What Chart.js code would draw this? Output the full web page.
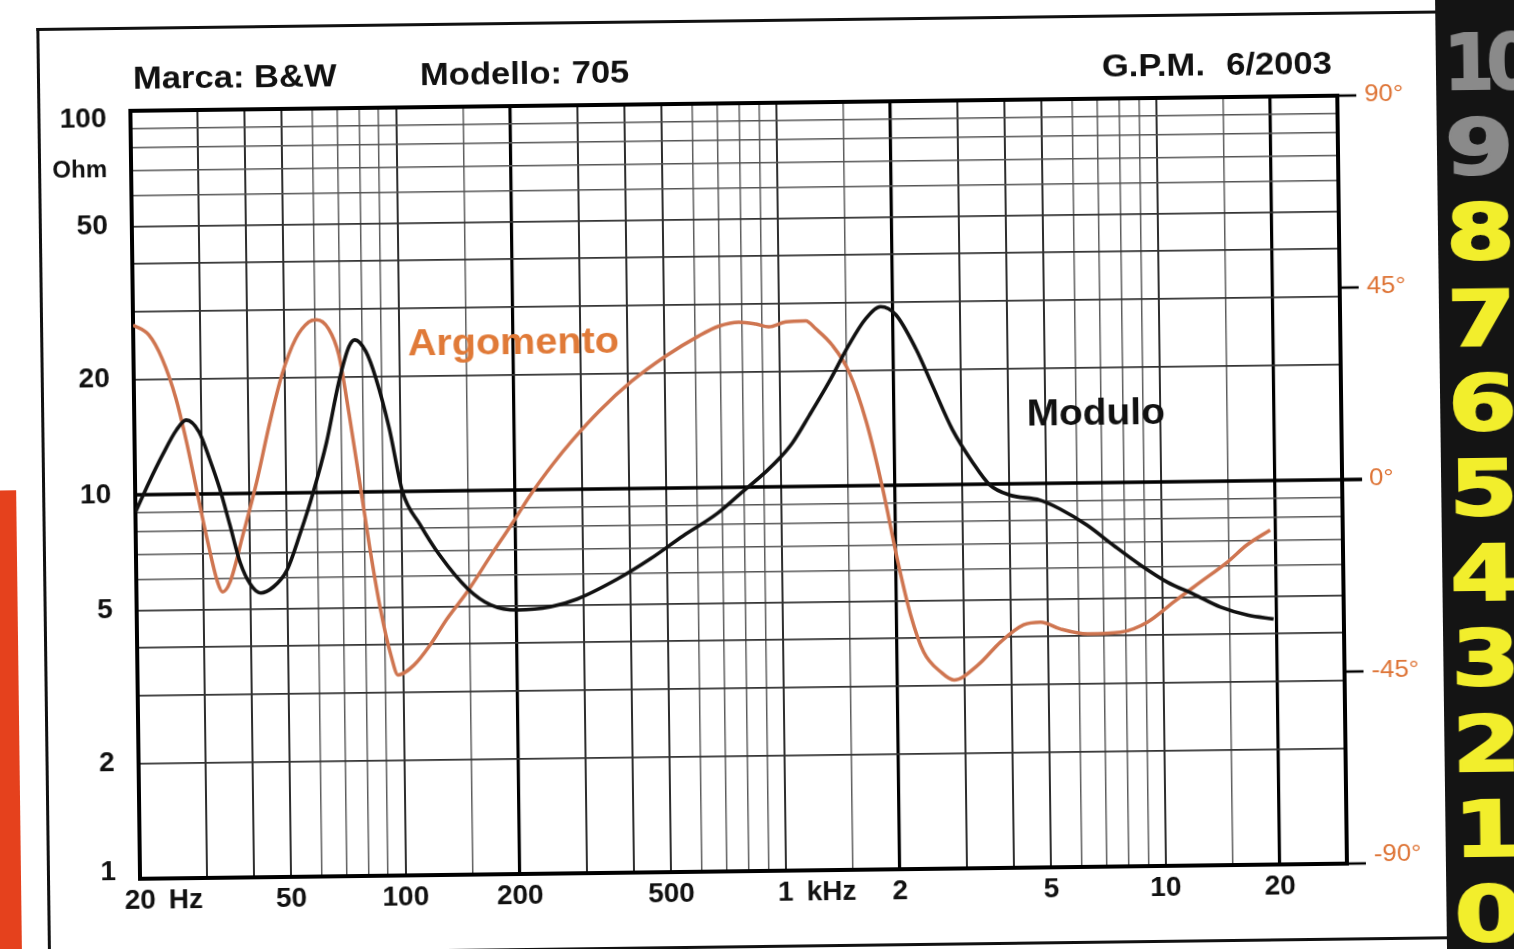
<!DOCTYPE html>
<html>
<head>
<meta charset="utf-8">
<script src="https://cdn.jsdelivr.net/npm/chart.js@4.4.1/dist/chart.umd.min.js"></script>
<style>
  body { margin: 0; background: #fff; overflow: hidden; }
  #page { position: absolute; left: 0; top: 0; width: 1514px; height: 949px; transform: rotate(-0.72deg); }
  #frame { position: absolute; left: 42px; top: 19px; width: 1400px; height: 923px; border: 3px solid #111; border-right: none; background: #fff; }
  #tab { position: absolute; left: -30px; top: 481px; width: 46px; height: 520px; background: #e5411d; }
  #strip { position: absolute; left: 1441px; top: -40px; width: 120px; height: 1040px; background: #141414; }
  .digit { position: absolute; left: 1449px; font: bold 76px "DejaVu Sans", sans-serif; line-height: 84px; color: #f2ee2c;
           white-space: nowrap; transform: scaleX(1.3); transform-origin: left center; -webkit-text-stroke: 2px #f2ee2c; }
  .digit.dim { color: #8a8a8a; -webkit-text-stroke: 2px #8a8a8a; }
  .digit.wide { transform: scaleX(0.95); letter-spacing: -8px; }
  #chart { position: absolute; left: 0; top: 0; }
</style>
</head>
<body>
<div id="page">
  <div id="tab"></div>
  <div id="frame"></div>
  <div id="strip"></div>
  <canvas id="chart" width="1514" height="949"></canvas>
</div>
<script>
// Impedance: modulus (Ohm) and phase (degrees) against frequency (Hz)
const freqMod = [20, 21.8, 23.7, 25.8, 27.4, 29.6, 31.5, 33.4, 35.4, 37.6, 39.9, 42.4, 45.9, 49.9, 54.1, 58.6,
  64, 69.3, 73.8, 76.6, 81.8, 86.8, 93.7, 101, 112, 126, 149, 171, 201, 245, 289, 369, 451, 551, 678, 780,
  919, 1006, 1077, 1195, 1351, 1528, 1694, 1856, 2034, 2292, 2521, 2841, 3204, 3548, 4000, 4797, 5416,
  6374, 7458, 8772, 10330, 12090, 14220, 16750, 19600];
const modulo = [9.0, 10.8, 12.7, 14.7, 15.6, 14.5, 12.3, 10.3, 8.3, 6.6, 5.8, 5.5, 5.7, 6.3, 7.8, 9.9,
  13.5, 19.4, 23.9, 24.9, 23.2, 19.7, 14.6, 10.0, 8.2, 6.8, 5.55, 5.03, 4.87, 4.95, 5.18, 5.82, 6.55, 7.5, 8.55, 9.6,
  11.0, 12.0, 13.0, 15.3, 18.7, 23.3, 27.2, 29.2, 27.8, 22.6, 18.2, 13.9, 11.4, 9.95, 9.35, 9.05, 8.57,
  7.76, 6.87, 6.09, 5.48, 5.09, 4.70, 4.47, 4.36];

const freqArg = [20, 22, 23.8, 25.8, 27.4, 29, 30.8, 32.7, 33.7, 35.3, 38.3, 41.8, 45.3, 49.1, 53.5,
  58, 60.8, 65.4, 69.4, 73.6, 78, 82.6, 87.6, 93, 97, 107, 118, 131, 149, 171, 197, 218, 251, 284, 335,
  409, 504, 616, 695, 785, 870, 941, 1043, 1178, 1251, 1378, 1525, 1688, 1854, 2014, 2174, 2348, 2600,
  2814, 3255, 3746, 4307, 4776, 5390, 6348, 7748, 9133, 10700, 12610, 14870, 16780, 19320];
const argomento = [39.8, 37.4, 31.8, 22.4, 12.3, 1.2, -10.5, -20.6, -23.0, -20.7, -9.7, 2.7, 16.0, 27.7, 36.1,
  40.0, 40.5, 38.3, 32.2, 18.1, 2.4, -13.4, -27.5, -38.3, -43.0, -40.7, -36.1, -30.0, -23.5, -15.5, -7.5, -1.5, 5.8, 11.5, 18.3,
  25.2, 31.0, 35.6, 37.8, 38.7, 38.2, 37.5, 38.6, 38.8, 36.9, 33.1, 26.7, 14.9, -0.8, -17.3, -30.4, -39.2, -43.9,
  -45.8, -42.4, -37.0, -33.1, -32.5, -34.2, -35.4, -35.1, -32.8, -28.2, -23.6, -19.0, -15.0, -11.6];

// axis labels
const freqTicks = [20, 50, 100, 200, 500, 1000, 2000, 5000, 10000, 20000];
const freqLabels = ['20 Hz', '50', '100', '200', '500', '1 kHz', '2', '5', '10', '20'];
const ohmTicks = [100, 70, 50, 20, 10, 5, 2, 1];
const ohmLabels = ['100', 'Ohm', '50', '20', '10', '5', '2', '1'];
const phaseTicks = [90, 45, 0, -45, -90];
const phaseLabels = ['90°', '45°', '0°', '-45°', '-90°'];

const headerLeft = ['Marca: B&W', 'Modello: 705'];
const headerRight = ['G.P.M.', '6/2003'];
const ratingScale = ['10', '9', '8', '7', '6', '5', '4', '3', '2', '1', '0'];

// rating column on the right edge
const page = document.getElementById('page');
ratingScale.forEach((d, i) => {
  const el = document.createElement('div');
  el.className = 'digit' + (i < 2 ? ' dim' : '') + (d.length > 1 ? ' wide' : '');
  el.textContent = d;
  el.style.top = (30 + i * 85.2) + 'px';
  page.appendChild(el);
});

// log paper grid: 1..9 per decade, plus the 1.5 lines on the frequency axis
const freqGrid = [];
[10, 100, 1000, 10000].forEach(d => {
  [1, 1.5, 2, 3, 4, 5, 6, 7, 8, 9].forEach(m => {
    const v = m * d;
    if (v >= 20 && v <= 30000) freqGrid.push(v);
  });
});
const ohmGrid = [1, 2, 3, 4, 5, 6, 7, 8, 9, 10, 20, 30, 40, 50, 60, 70, 80, 90, 100];

function mantissa(v) {
  return Math.round(v / Math.pow(10, Math.floor(Math.log10(v) + 1e-9)) * 10) / 10;
}

const FONT = '"Liberation Sans", Arial, sans-serif';

function drawText(ctx, str, x, y, font, color, align, sx) {
  ctx.save();
  ctx.font = font;
  ctx.fillStyle = color;
  ctx.textAlign = align;
  ctx.textBaseline = 'middle';
  ctx.translate(x, y);
  ctx.scale(sx || 1, 1);
  ctx.fillText(str, 0, 0);
  ctx.restore();
}

const clamp = (v, lo, hi) => Math.min(hi, Math.max(lo, v));

const paper = {
  id: 'paper',
  beforeDatasetsDraw(chart) {
    const { ctx, chartArea: a, scales } = chart;
    const y0 = scales.y2.getPixelForValue(0);
    ctx.save();
    ctx.strokeStyle = '#000';
    // 0° reference, continues out to the phase ticks
    ctx.lineWidth = 3.5;
    ctx.beginPath();
    ctx.moveTo(a.left, y0);
    ctx.lineTo(a.right + 20, y0);
    ctx.stroke();
    // phase tick marks outside the right border
    ctx.lineWidth = 2.5;
    phaseTicks.forEach(v => {
      const py = scales.y2.getPixelForValue(v);
      ctx.beginPath();
      ctx.moveTo(a.right, py);
      ctx.lineTo(a.right + 19, py);
      ctx.stroke();
    });
    ctx.lineWidth = 4;
    ctx.strokeRect(a.left, a.top, a.right - a.left, a.bottom - a.top);
    ctx.restore();
  },
  afterDraw(chart) {
    const { ctx, chartArea: a, scales } = chart;
    const labelFont = 'bold 28px ' + FONT;

    // Ohm labels on the left
    ohmTicks.forEach((v, i) => {
      const py = clamp(scales.y.getPixelForValue(v), a.top + 8, a.bottom - 7);
      const font = ohmLabels[i] === 'Ohm' ? 'bold 24px ' + FONT : labelFont;
      drawText(ctx, ohmLabels[i], a.left - 24, py, font, '#111', 'right');
    });

    // frequency labels: number centred on its line, unit trailing
    ctx.font = labelFont;
    freqTicks.forEach((v, i) => {
      const px = scales.x.getPixelForValue(v);
      const parts = freqLabels[i].split(' ');
      drawText(ctx, parts[0], px, a.bottom + 22, labelFont, '#111', 'center');
      if (parts[1]) {
        const w = ctx.measureText(parts[0]).width;
        drawText(ctx, parts[1], px + w / 2 + 13, a.bottom + 22, labelFont, '#111', 'left');
      }
    });

    // phase labels on the right
    phaseTicks.forEach((v, i) => {
      const py = clamp(scales.y2.getPixelForValue(v), a.top, a.bottom - 8);
      drawText(ctx, phaseLabels[i], a.right + 27, py, '23px ' + FONT, '#de7436', 'left', 1.12);
    });

    // header line
    const titleFont = 'bold 32px ' + FONT;
    drawText(ctx, headerLeft[0], a.left + 3, a.top - 31, titleFont, '#111', 'left', 1.08);
    drawText(ctx, headerLeft[1], a.left + 290, a.top - 31, titleFont, '#111', 'left', 1.08);
    drawText(ctx, headerRight[0], a.right - 132, a.top - 31, titleFont, '#111', 'right', 1.08);
    drawText(ctx, headerRight[1], a.right - 5, a.top - 31, titleFont, '#111', 'right', 1.08);

    // curve names
    drawText(ctx, 'Argomento', scales.x.getPixelForValue(200), scales.y.getPixelForValue(24),
      'bold 36px ' + FONT, '#e07a38', 'center', 1.1);
    drawText(ctx, 'Modulo', scales.x.getPixelForValue(6780), scales.y.getPixelForValue(15),
      'bold 36px ' + FONT, '#111', 'center', 1.08);
  }
};

new Chart(document.getElementById('chart'), {
  type: 'line',
  data: {
    datasets: [{
      label: 'Modulo',
      data: freqMod.map((f, i) => ({ x: f, y: modulo[i] })),
      yAxisID: 'y',
      borderColor: '#111',
      borderWidth: 3.6,
      pointRadius: 0,
      cubicInterpolationMode: 'monotone'
    }, {
      label: 'Argomento',
      data: freqArg.map((f, i) => ({ x: f, y: argomento[i] })),
      yAxisID: 'y2',
      borderColor: '#cf7550',
      borderWidth: 3.5,
      pointRadius: 0,
      cubicInterpolationMode: 'monotone'
    }]
  },
  options: {
    responsive: false,
    animation: false,
    devicePixelRatio: 1,
    layout: { padding: { left: 135, top: 103, right: 172, bottom: 78 } },
    plugins: { legend: { display: false }, tooltip: { enabled: false } },
    scales: {
      x: {
        type: 'logarithmic',
        min: 20,
        max: 30000,
        afterBuildTicks: ax => { ax.ticks = freqGrid.map(v => ({ value: v })); },
        ticks: { display: false, autoSkip: false },
        border: { display: false },
        grid: {
          drawTicks: false,
          color: c => {
            const m = c.tick ? mantissa(c.tick.value) : 0;
            if (m === 2) return '#000';
            if (m === 1 || m === 3 || m === 4 || m === 5) return '#2e2e2e';
            return '#5e5e5e';
          },
          lineWidth: c => {
            const m = c.tick ? mantissa(c.tick.value) : 0;
            if (m === 2) return 3.2;
            if (m === 1 || m === 3 || m === 4 || m === 5) return 2;
            return 1.5;
          }
        }
      },
      y: {
        type: 'logarithmic',
        min: 1,
        max: 100,
        afterBuildTicks: ax => { ax.ticks = ohmGrid.map(v => ({ value: v })); },
        ticks: { display: false, autoSkip: false },
        border: { display: false },
        grid: {
          drawTicks: false,
          color: c => {
            const v = c.tick ? c.tick.value : 1;
            if (v === 1 || v === 10 || v === 100) return 'rgba(0,0,0,0)';
            return mantissa(v) <= 5 ? '#333' : '#555';
          },
          lineWidth: c => {
            const v = c.tick ? c.tick.value : 1;
            return mantissa(v) <= 5 ? 1.8 : 1.5;
          }
        }
      },
      y2: {
        type: 'linear',
        position: 'right',
        min: -90,
        max: 90,
        display: false
      }
    }
  },
  plugins: [paper]
});
</script>
</body>
</html>
